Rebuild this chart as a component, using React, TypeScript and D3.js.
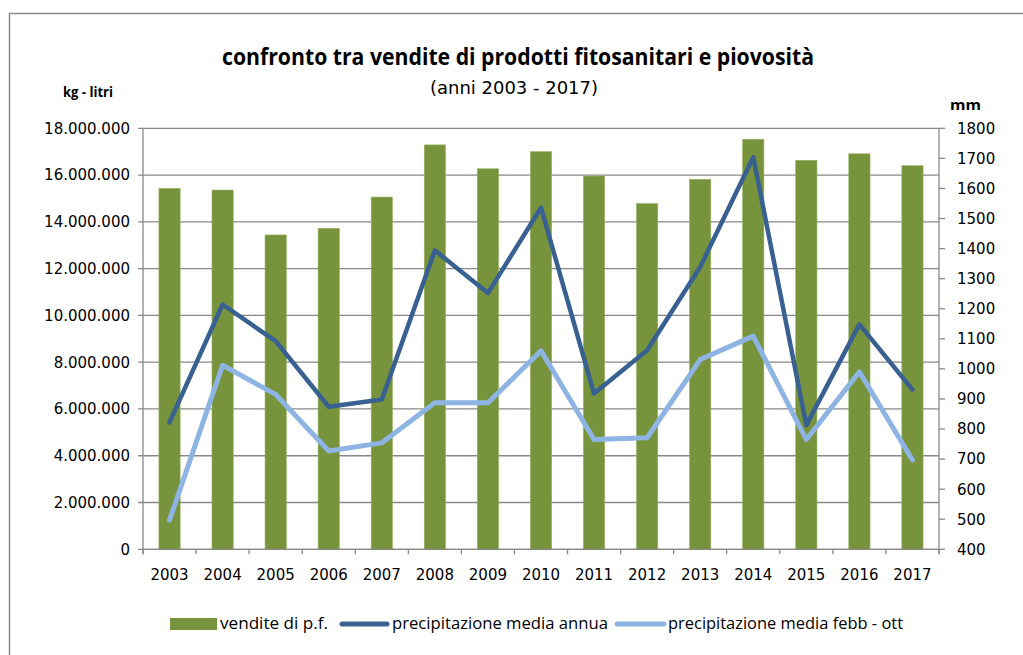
import React from "react";
import * as d3 from "d3";

const years = ["2003","2004","2005","2006","2007","2008","2009","2010","2011","2012","2013","2014","2015","2016","2017"];
const vendite = [15430000,15360000,13440000,13720000,15060000,17290000,16270000,17000000,15960000,14780000,15820000,17530000,16630000,16910000,16400000];
const precAnnua = [822,1214,1092,874,898,1394,1252,1536,918,1062,1339,1704,813,1148,931];
const precFebbOtt = [497,1012,915,727,754,887,887,1060,765,771,1031,1109,765,990,697];
const leftTicks = [0,2e6,4e6,6e6,8e6,10e6,12e6,14e6,16e6,18e6];
const rightTicks = [400,500,600,700,800,900,1000,1100,1200,1300,1400,1500,1600,1700,1800];

const title = "confronto tra vendite di prodotti fitosanitari e piovosità";
const subtitle = "(anni 2003 - 2017)";
const leftUnit = "kg - litri";
const rightUnit = "mm";
const legendLabels = ["vendite di p.f.", "precipitazione media annua", "precipitazione media febb - ott"];

const C_BAR = "#77933C";
const C_DARK = "#386090";
const C_LIGHT = "#8DB4E2";
const C_GRID = "#888888";

const fmt = d3.formatLocale({ thousands: ".", decimal: ",", grouping: [3], currency: ["", ""] }).format(",d");

export default function App() {
  const L = 143, R = 939, T = 128.3, B = 549.3;
  const x = d3.scaleBand<string>().domain(years).range([L, R]).paddingInner(0.6).paddingOuter(0.3);
  const yL = d3.scaleLinear().domain([0, 18e6]).range([B, T]);
  const yR = d3.scaleLinear().domain([400, 1800]).range([B, T]);
  const cx = (d: string) => (x(d) as number) + x.bandwidth() / 2;
  const lineA = d3.line<number>().x((_, i) => cx(years[i])).y((v) => yR(v));
  const step = x.step();
  const bounds = d3.range(years.length + 1).map((i) => L + i * step);
  const font = "'DejaVu Sans', sans-serif";
  const font2 = "'Open Sans', sans-serif";

  return (
    <svg width={1023} height={655} style={{ position: "absolute", left: 0, top: 0, background: "#fff" }}>
      <rect x={9.5} y={13.5} width={1100} height={700} fill="#fff" stroke="#8a8a8a" strokeWidth={1.5} />
      <text x={222} y={65} fontFamily={font2} fontWeight="bold" fontSize={23} textLength={592} lengthAdjust="spacingAndGlyphs">{title}</text>
      <text x={430} y={94} fontFamily={font} fontSize={17} textLength={168} lengthAdjust="spacingAndGlyphs">{subtitle}</text>
      <text x={63} y={97} fontFamily={font2} fontWeight="bold" fontSize={15} textLength={50} lengthAdjust="spacingAndGlyphs">{leftUnit}</text>
      <text x={950} y={110} fontFamily={font2} fontWeight="bold" fontSize={15} textLength={31} lengthAdjust="spacingAndGlyphs">{rightUnit}</text>

      {leftTicks.map((t) => (
        <line key={"g" + t} x1={L - 5} x2={R} y1={yL(t)} y2={yL(t)} stroke={C_GRID} strokeWidth={1.3} />
      ))}
      <line x1={L} x2={L} y1={T} y2={B + 5} stroke={C_GRID} strokeWidth={1.3} />
      {leftTicks.map((t) => (
        <text key={"lt" + t} x={130} y={yL(t)} dy="0.36em" textAnchor="end" fontFamily={font} fontSize={15} fill="#000">{fmt(t)}</text>
      ))}
      <line x1={R} x2={R} y1={T} y2={B + 5} stroke={C_GRID} strokeWidth={1.3} />
      {rightTicks.map((t) => (
        <g key={"rt" + t}>
          <line x1={R} x2={R + 6} y1={yR(t)} y2={yR(t)} stroke={C_GRID} strokeWidth={1.3} />
          <text x={957} y={yR(t)} dy="0.36em" fontFamily={font} fontSize={15} fill="#000">{t}</text>
        </g>
      ))}
      {bounds.map((b, i) => (
        <line key={"xt" + i} x1={b} x2={b} y1={B} y2={B + 5} stroke={C_GRID} strokeWidth={1.3} />
      ))}
      {years.map((yv) => (
        <text key={"xl" + yv} x={cx(yv)} y={580} textAnchor="middle" fontFamily={font} fontSize={15} fill="#000">{yv}</text>
      ))}

      {years.map((yv, i) => (
        <rect key={"b" + yv} x={x(yv)} y={yL(vendite[i])} width={x.bandwidth()} height={B - yL(vendite[i])} fill={C_BAR} stroke="#94b060" strokeWidth={0.6} />
      ))}
      <line x1={L} x2={R} y1={B} y2={B} stroke={C_GRID} strokeWidth={1.3} />

      <path d={lineA(precAnnua) || ""} fill="none" stroke={C_DARK} strokeWidth={4.5} strokeLinejoin="round" strokeLinecap="round" />
      <path d={lineA(precFebbOtt) || ""} fill="none" stroke={C_LIGHT} strokeWidth={5} strokeLinejoin="round" strokeLinecap="round" />

      <rect x={170} y={618} width={47} height={12} fill={C_BAR} />
      <text x={220} y={629} fontFamily={font2} fontSize={16} textLength={108} lengthAdjust="spacingAndGlyphs">{legendLabels[0]}</text>
      <line x1={342} x2={387} y1={624} y2={624} stroke={C_DARK} strokeWidth={5} strokeLinecap="round" />
      <text x={392} y={629} fontFamily={font2} fontSize={16} textLength={216} lengthAdjust="spacingAndGlyphs">{legendLabels[1]}</text>
      <line x1={617} x2={664} y1={624} y2={624} stroke={C_LIGHT} strokeWidth={5} strokeLinecap="round" />
      <text x={668} y={629} fontFamily={font2} fontSize={16} textLength={235} lengthAdjust="spacingAndGlyphs">{legendLabels[2]}</text>
    </svg>
  );
}
